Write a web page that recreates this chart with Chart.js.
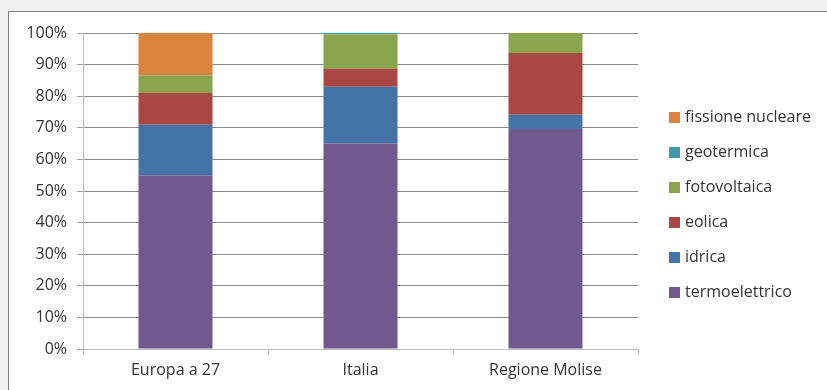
<!DOCTYPE html>
<html>
<head>
<meta charset="utf-8">
<script src="https://cdn.jsdelivr.net/npm/chart.js@4.4.1/dist/chart.umd.min.js"></script>
<style>
    html, body { margin: 0; padding: 0; background: #f0f0f0; }
    #wrap { position: relative; width: 827px; height: 390px; }
</style>
</head>
<body>
<div id="wrap"><canvas id="canvas" width="827" height="390"></canvas></div>
<script>
// categories and series (percent of total production)
var categories = ['Europa a 27', 'Italia', 'Regione Molise'];
var termoelettrico = [55, 65, 69.6];
var idrica = [16, 18, 4.5];
var eolica = [10, 5.7, 19.6];
var fotovoltaica = [5.6, 10.8, 6.3];
var geotermica = [0, 0.5, 0];
var fissioneNucleare = [13.4, 0, 0];
var yTicks = [0, 10, 20, 30, 40, 50, 60, 70, 80, 90, 100];

var seriesNames = ['termoelettrico', 'idrica', 'eolica', 'fotovoltaica', 'geotermica', 'fissione nucleare'];
var seriesData = [termoelettrico, idrica, eolica, fotovoltaica, geotermica, fissioneNucleare];
var seriesColors = ['#71588F', '#4572A7', '#AA4643', '#89A54E', '#4198AF', '#DB843D'];

var FONT = '"Open Sans", "Noto Sans", sans-serif';

// background frame like the spreadsheet window
var frame = {
    id: 'frame',
    beforeDraw: function (chart) {
        var ctx = chart.ctx;
        ctx.save();
        ctx.fillStyle = '#f0f0f0';
        ctx.fillRect(0, 0, chart.width, chart.height);
        ctx.fillStyle = '#ffffff';
        ctx.fillRect(9, 12, chart.width - 9, chart.height - 12);
        ctx.fillStyle = '#808080';
        ctx.fillRect(8, 11, chart.width - 8, 1);
        ctx.fillRect(8, 11, 1, chart.height - 11);
        ctx.restore();
    }
};

// legend on the right, reversed order
var sideLegend = {
    id: 'sideLegend',
    afterDraw: function (chart) {
        var ctx = chart.ctx;
        var ds = chart.data.datasets;
        ctx.save();
        ctx.font = '16px ' + FONT;
        ctx.textBaseline = 'middle';
        ctx.textAlign = 'left';
        for (var k = 0; k < ds.length; k++) {
            var d = ds[ds.length - 1 - k];
            var y = 117 + 35 * k;
            ctx.fillStyle = d.backgroundColor;
            ctx.fillRect(669, y - 5, 11, 11);
            ctx.fillStyle = '#333333';
            ctx.fillText(d.label, 685, y);
        }
        ctx.restore();
    }
};

var datasets = seriesNames.map(function (name, i) {
    return {
        label: name,
        data: seriesData[i],
        backgroundColor: seriesColors[i],
        borderWidth: 0,
        barPercentage: 0.4,
        categoryPercentage: 1.0
    };
});

var config = {
    type: 'bar',
    data: {
        labels: categories,
        datasets: datasets
    },
    options: {
        responsive: false,
        animation: false,
        layout: {
            padding: { top: 33, right: 189, bottom: 0, left: 0 }
        },
        plugins: {
            legend: { display: false },
            tooltip: { enabled: false }
        },
        scales: {
            x: {
                stacked: true,
                offset: true,
                grid: {
                    display: true,
                    drawOnChartArea: false,
                    drawTicks: true,
                    tickLength: 6,
                    color: '#c0c0c0',
                    offset: true
                },
                border: { color: '#bdbdbd' },
                ticks: {
                    color: '#333333',
                    padding: 6,
                    font: { family: FONT, size: 16 }
                },
                afterFit: function (scale) { scale.height = 41; }
            },
            y: {
                stacked: true,
                min: 0,
                max: 100,
                afterBuildTicks: function (scale) {
                    scale.ticks = yTicks.map(function (v) { return { value: v }; });
                },
                grid: {
                    color: '#8c8c8c',
                    tickLength: 6,
                    tickColor: '#a0a0a0'
                },
                border: { color: '#c0c0c0' },
                ticks: {
                    color: '#333333',
                    padding: 10,
                    font: { family: FONT, size: 16 },
                    callback: function (v) { return v + '%'; }
                },
                afterFit: function (scale) { scale.width = 83; }
            }
        }
    },
    plugins: [frame, sideLegend]
};

var chart = new Chart(document.getElementById('canvas'), config);
</script>
</body>
</html>
